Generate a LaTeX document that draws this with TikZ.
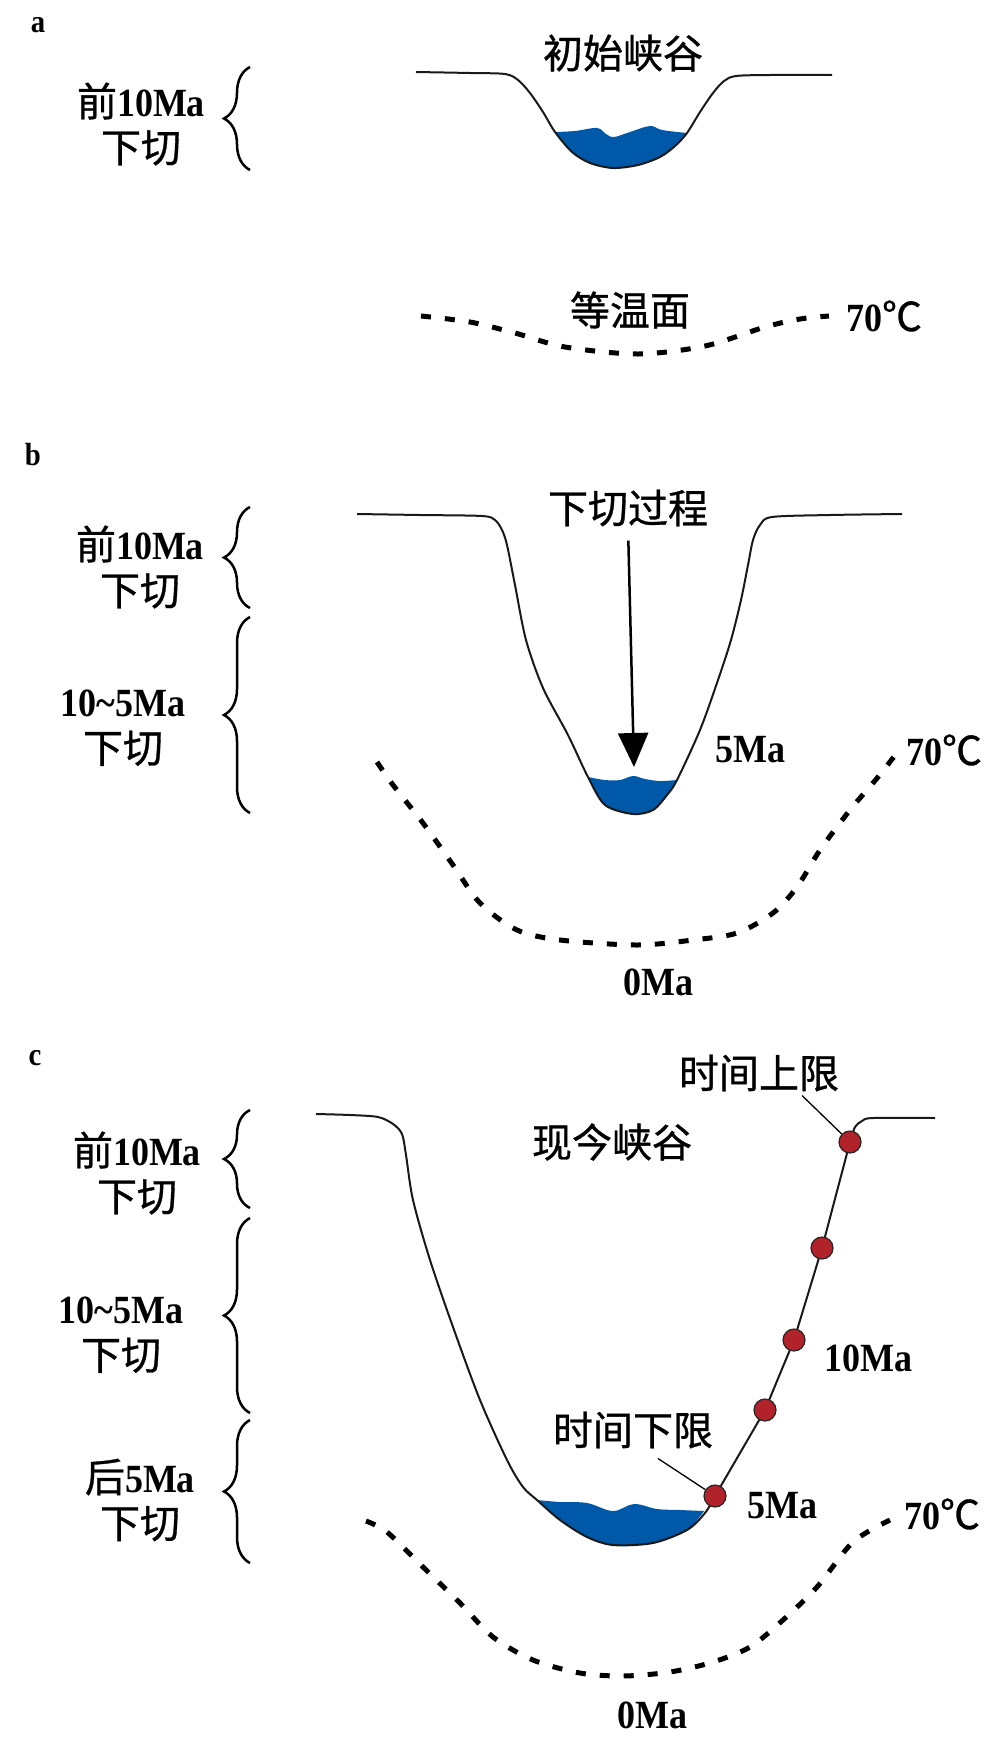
\documentclass[tikz,border=0pt]{standalone}
\usepackage{fontspec}
\setmainfont{Liberation Serif}[UprightFont=* Bold,FakeStretch=0.9]
\newfontfamily\cjk{Noto Sans CJK SC}[FakeBold=0.8]
\usepackage{xcolor}
\usepackage{tikz}
\usetikzlibrary{decorations.pathreplacing,calc,arrows.meta}
\definecolor{waterblue}{RGB}{0,88,168}
\definecolor{dotred}{RGB}{178,34,42}
\pgfkeys{tikz/mycanyon/.style={line width=2pt,draw=black!90,line join=round}}
\pgfkeys{tikz/mywater/.style={fill=waterblue}}
\pgfkeys{tikz/myiso/.style={line width=5pt,dash pattern=on 10pt off 14pt}}
\pgfkeys{tikz/mybrace/.style={decorate,decoration={brace,amplitude=26pt},line width=2.5pt}}
\pgfkeys{tikz/mytext/.style={inner sep=0pt,align=center,font=\fontsize{40}{46}\selectfont}}
\pgfkeys{tikz/mypanel/.style={inner sep=0pt,anchor=base,font=\fontsize{32}{36}\selectfont}}
\pgfkeys{tikz/mydot/.style={circle,minimum size=22pt,inner sep=0pt,fill=dotred,draw=black!85,line width=1.2pt}}
\pgfkeys{tikz/myleader/.style={line width=1.3pt}}
\pgfkeys{tikz/myarrow/.style={line width=2.5pt,-{Triangle[width=30pt,length=34pt]}}}
\newcommand\zh[1]{{\cjk #1}}
\newcommand*\mybraceleft[2]{
    \draw[mybrace] (250,#2) -- (250,#1);
}

\begin{document}
\begin{tikzpicture}[x=1pt,y=-1pt]
    \useasboundingbox (0,0) rectangle (1000,1748);

    \node[mypanel] (pa) at (38,32) {a};
    \fill[mywater] plot[smooth,tension=0.6] coordinates {(555,132) (575,131) (597,128) (606,134) (614,137) (630,132) (650,126) (662,130) (687,133)}
        -- plot[smooth,tension=0.5] coordinates {(687,133) (675,146) (660,157) (638,165) (613,168) (590,163) (572,152) (555,132)} -- cycle;
    \draw[mycanyon] plot[smooth,tension=0.5] coordinates {(416,72) (470,73) (505,74) (518,80) (530,93) (543,112) (555,132) (572,152) (590,163) (613,168) (638,165) (660,157) (675,146) (687,133) (700,112) (713,93) (724,81) (736,76) (770,75) (832,75)};
    \draw[myiso] plot[smooth] coordinates {(421,316) (470,322) (515,333) (565,347) (638,354) (705,346) (765,327) (800,319) (829,316)};
    \node[mytext] (ca) at (623,53) {\zh{初始峡谷}};
    \node[mytext] (iso) at (630,310) {\zh{等温面}};
    \node[mytext] (ta) at (884,316) {70\zh{℃}};
    \node[mytext] (la) at (141,124) {\zh{前}10Ma\\\zh{下切}};
    \mybraceleft{67}{170}

    \node[mypanel] (pb) at (33,465) {b};
    \fill[mywater] plot[smooth,tension=0.6] coordinates {(588,777) (605,780) (620,780) (633,776) (645,779) (660,781) (677,780)}
        -- plot[smooth,tension=0.5] coordinates {(677,780) (667,795) (653,810) (633,814) (605,805) (588,777)} -- cycle;
    \draw[mycanyon] plot[smooth,tension=0.5] coordinates {(357,514) (420,515) (482,516) (495,520) (502,530) (507,545) (515,585) (526,640) (543,688) (568,735) (588,777) (605,805) (633,814) (653,810) (667,795) (677,780) (700,730) (718,680) (731,640) (741,600) (748,565) (753,540) (760,525) (772,517) (830,515) (902,514)};
    \draw[myiso] plot[smooth] coordinates {(377,762) (393,785) (423,823) (453,865) (480,903) (517,930) (560,940) (637,945) (693,940) (737,933) (773,913) (797,887) (820,850) (850,810) (878,777) (896,754)};
    \node[mytext] (proc) at (628,508) {\zh{下切过程}};
    \coordinate (tipb) at (634,767);
    \draw[myarrow,shorten <=14pt] (proc.south) -- (tipb);
    \node[mytext] (fb) at (750,750) {5Ma};
    \node[mytext] (tb) at (944,750) {70\zh{℃}};
    \node[mytext] (zb) at (658,982) {0Ma};
    \node[mytext] (lb1) at (140,567) {\zh{前}10Ma\\\zh{下切}};
    \node[mytext] (lb2) at (123,728) {10\textasciitilde5Ma\\\zh{下切}};
    \mybraceleft{507}{608}
    \mybraceleft{617}{813}

    \node[mypanel] (pc) at (35,1065) {c};
    \fill[mywater] plot[smooth,tension=0.6] coordinates {(537,1500) (560,1502) (587,1503) (613,1511) (634,1504) (657,1509) (680,1510) (704,1511)}
        -- plot[smooth,tension=0.5] coordinates {(704,1511) (687,1530) (653,1543) (613,1545) (587,1537) (560,1520) (537,1500)} -- cycle;
    \draw[mycanyon] plot[smooth,tension=0.5] coordinates {(316,1114) (350,1115) (378,1117) (393,1124) (402,1134) (406,1155) (413,1200) (430,1260) (453,1327) (480,1400) (507,1460) (523,1487) (537,1500) (560,1520) (587,1537) (613,1545) (653,1543) (687,1530) (705,1513) (715,1496)}
        -- (765,1410) -- (794,1340) -- (822,1248) -- (850,1142)
        -- plot[smooth,tension=0.5] coordinates {(850,1142) (855,1127) (862,1121) (873,1118) (935,1118)};
    \draw[myiso] plot[smooth] coordinates {(366,1521) (387,1532) (423,1567) (460,1603) (493,1637) (533,1660) (580,1673) (623,1676) (670,1672) (713,1662) (750,1647) (783,1620) (817,1587) (853,1542) (890,1520)};
    \node[mydot] (d1) at (850,1142) {};
    \node[mydot] (d2) at (822,1248) {};
    \node[mydot] (d3) at (794,1340) {};
    \node[mydot] (d4) at (765,1410) {};
    \node[mydot] (d5) at (715,1496) {};
    \node[mytext] (ul) at (759,1073) {\zh{时间上限}};
    \node[mytext] (cc) at (612,1142) {\zh{现今峡谷}};
    \node[mytext] (tc) at (868,1358) {10Ma};
    \node[mytext] (ll) at (633,1430) {\zh{时间下限}};
    \node[mytext] (fc) at (782,1506) {5Ma};
    \node[mytext] (tcc) at (942,1514) {70\zh{℃}};
    \node[mytext] (zc) at (652,1715) {0Ma};
    \draw[myleader] ([xshift=43pt,yshift=-4pt]ul.south) -- (d1);
    \draw[myleader] ([xshift=25pt,yshift=-10pt]ll.south) -- (d5);
    \node[mytext] (lc1) at (137,1173) {\zh{前}10Ma\\\zh{下切}};
    \node[mytext] (lc2) at (121,1335) {10\textasciitilde5Ma\\\zh{下切}};
    \node[mytext] (lc3) at (140,1500) {\zh{后}5Ma\\\zh{下切}};
    \mybraceleft{1110}{1208}
    \mybraceleft{1218}{1413}
    \mybraceleft{1420}{1563}
\end{tikzpicture}
\end{document}
